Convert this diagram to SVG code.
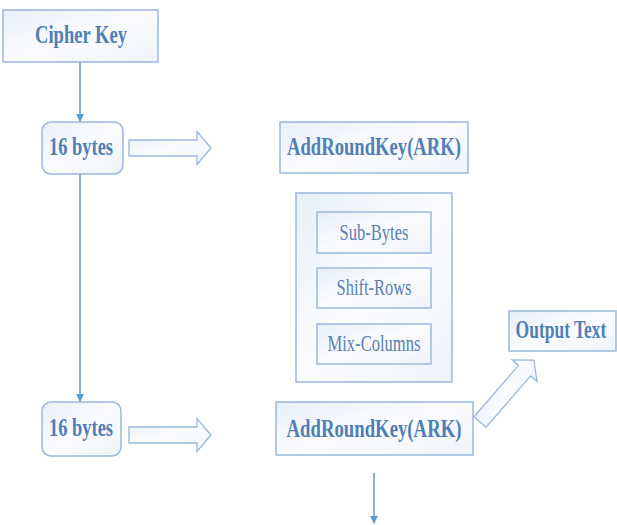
<svg xmlns="http://www.w3.org/2000/svg" width="617" height="525" viewBox="0 0 617 525">
<defs>
<linearGradient id="g" x1="0" y1="0" x2="1" y2="1">
<stop offset="0" stop-color="#e8eff8"/>
<stop offset="0.5" stop-color="#fbfcfe"/>
<stop offset="1" stop-color="#eef3fa"/>
</linearGradient>
<marker id="ah" markerWidth="8" markerHeight="8" refX="7" refY="4" orient="auto" markerUnits="userSpaceOnUse">
<path d="M0,0 L8,4 L0,8 Z" fill="#5b9bd5"/>
</marker>
<path id="harrow" d="M0,-8 H68 V-16.5 L82,0 L68,16.5 V8 H0 Z"/>
</defs>
<style>
.box{fill:url(#g);stroke:#9bb8dc;stroke-width:1.5}
.hb{fill:url(#g);stroke:#9bb8dc;stroke-width:1.3}
.bt{font-family:"Liberation Serif",serif;font-weight:bold;font-size:25px;fill:#4f7fb5;text-anchor:middle}
.rt{font-family:"Liberation Serif",serif;font-size:23px;fill:#5a80b2;text-anchor:middle}
.ln{stroke:#5b9bd5;stroke-width:1.5;fill:none}
</style>
<rect width="617" height="525" fill="#ffffff"/>
<g id="connectors">
<line class="ln" x1="80" y1="62" x2="80" y2="121" marker-end="url(#ah)"/>
<line class="ln" x1="80" y1="174" x2="80" y2="401" marker-end="url(#ah)"/>
<line class="ln" x1="374" y1="473" x2="374" y2="523" marker-end="url(#ah)"/>
<use href="#harrow" class="hb" transform="translate(129,148)"/>
<use href="#harrow" class="hb" transform="translate(129,435)"/>
<use href="#harrow" class="hb" transform="translate(480,422) rotate(-49)"/>
</g>
<g id="cipher-key">
<rect class="box" x="3" y="10" width="155" height="52"/>
<text class="bt" x="81" y="43" textLength="92" lengthAdjust="spacingAndGlyphs">Cipher Key</text>
</g>
<g id="bytes-top">
<rect class="box" x="42" y="122" width="81" height="52" rx="9"/>
<text class="bt" x="81" y="155" textLength="64" lengthAdjust="spacingAndGlyphs">16 bytes</text>
</g>
<g id="ark-top">
<rect class="box" x="280" y="122" width="188" height="51"/>
<text class="bt" x="374" y="155" textLength="174" lengthAdjust="spacingAndGlyphs">AddRoundKey(ARK)</text>
</g>
<g id="round">
<rect class="box" x="296" y="193" width="156" height="189"/>
</g>
<g id="sub-bytes">
<rect class="box" x="317" y="212" width="114" height="41"/>
<text class="rt" x="374" y="240" textLength="69" lengthAdjust="spacingAndGlyphs">Sub-Bytes</text>
</g>
<g id="shift-rows">
<rect class="box" x="317" y="268" width="114" height="40"/>
<text class="rt" x="374" y="295" textLength="75" lengthAdjust="spacingAndGlyphs">Shift-Rows</text>
</g>
<g id="mix-columns">
<rect class="box" x="317" y="324" width="114" height="40"/>
<text class="rt" x="374" y="351" textLength="93" lengthAdjust="spacingAndGlyphs">Mix-Columns</text>
</g>
<g id="output-text">
<rect class="box" x="509" y="311" width="107" height="40"/>
<text class="bt" transform="translate(561,338) scale(0.7,1)">Output Text</text>
</g>
<g id="bytes-bottom">
<rect class="box" x="42" y="402" width="79" height="54" rx="9"/>
<text class="bt" x="81" y="436" textLength="64" lengthAdjust="spacingAndGlyphs">16 bytes</text>
</g>
<g id="ark-bottom">
<rect class="box" x="276" y="402" width="197" height="53"/>
<text class="bt" x="374" y="437" textLength="175" lengthAdjust="spacingAndGlyphs">AddRoundKey(ARK)</text>
</g>
</svg>
